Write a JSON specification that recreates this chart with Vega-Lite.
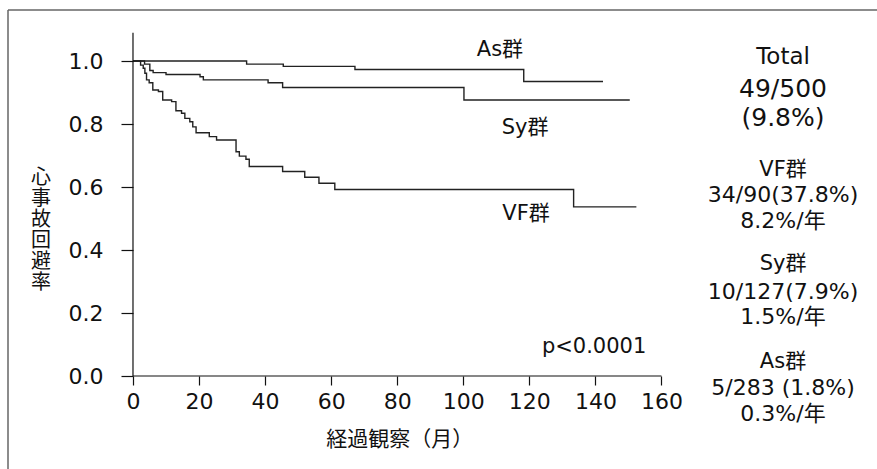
{
  "$schema": "https://vega.github.io/schema/vega-lite/v6.json",
  "width": 869,
  "height": 459,
  "autosize": {"type": "none"},
  "padding": {"left": 8, "top": 10, "right": 0, "bottom": 0},
  "background": "white",
  "config": {
    "view": {"stroke": null},
    "font": "DejaVu Sans, Noto Sans CJK JP",
    "axis": {"labelFont": "DejaVu Sans, Noto Sans CJK JP", "labelColor": "#111", "tickColor": "#111", "tickWidth": 1.2, "grid": false, "domain": false}
  },
  "datasets": {
    "curves": [
      {"g": "As", "x": 0, "y": 1.0},
      {"g": "As", "x": 34.4, "y": 0.99},
      {"g": "As", "x": 45.5, "y": 0.983},
      {"g": "As", "x": 67.2, "y": 0.973},
      {"g": "As", "x": 118.3, "y": 0.935},
      {"g": "As", "x": 142.3, "y": 0.935},
      {"g": "Sy", "x": 0, "y": 1.0},
      {"g": "Sy", "x": 3.5, "y": 0.99},
      {"g": "Sy", "x": 5.1, "y": 0.97},
      {"g": "Sy", "x": 6.1, "y": 0.963},
      {"g": "Sy", "x": 10.0, "y": 0.957},
      {"g": "Sy", "x": 20.3, "y": 0.95},
      {"g": "Sy", "x": 21.3, "y": 0.94},
      {"g": "Sy", "x": 40.9, "y": 0.931},
      {"g": "Sy", "x": 45.3, "y": 0.916},
      {"g": "Sy", "x": 100.2, "y": 0.876},
      {"g": "Sy", "x": 150.4, "y": 0.876},
      {"g": "VF", "x": 0, "y": 1.0},
      {"g": "VF", "x": 2.3, "y": 0.987},
      {"g": "VF", "x": 3.1, "y": 0.977},
      {"g": "VF", "x": 3.6, "y": 0.961},
      {"g": "VF", "x": 4.1, "y": 0.94},
      {"g": "VF", "x": 4.9, "y": 0.931},
      {"g": "VF", "x": 6.0, "y": 0.908},
      {"g": "VF", "x": 7.7, "y": 0.903},
      {"g": "VF", "x": 9.0, "y": 0.876},
      {"g": "VF", "x": 11.7, "y": 0.871},
      {"g": "VF", "x": 13.0, "y": 0.842},
      {"g": "VF", "x": 14.7, "y": 0.834},
      {"g": "VF", "x": 15.7, "y": 0.818},
      {"g": "VF", "x": 17.2, "y": 0.807},
      {"g": "VF", "x": 18.1, "y": 0.791},
      {"g": "VF", "x": 19.1, "y": 0.772},
      {"g": "VF", "x": 23.1, "y": 0.76},
      {"g": "VF", "x": 25.3, "y": 0.749},
      {"g": "VF", "x": 31.2, "y": 0.712},
      {"g": "VF", "x": 32.2, "y": 0.698},
      {"g": "VF", "x": 34.2, "y": 0.688},
      {"g": "VF", "x": 35.2, "y": 0.665},
      {"g": "VF", "x": 45.3, "y": 0.649},
      {"g": "VF", "x": 52.0, "y": 0.631},
      {"g": "VF", "x": 56.3, "y": 0.612},
      {"g": "VF", "x": 61.1, "y": 0.592},
      {"g": "VF", "x": 133.4, "y": 0.537},
      {"g": "VF", "x": 152.4, "y": 0.537}
    ],
    "axislines": [
      {"x": 0, "x2": 0, "y": 0, "y2": 1.09},
      {"x": 0, "x2": 160, "y": 0, "y2": 0}
    ],
    "frame": [
      {"x": -37.84, "x2": 225.25, "y": 1.1619, "y2": 1.1619},
      {"x": -37.84, "x2": -37.84, "y": -0.2952, "y2": 1.1619}
    ],
    "labels": [
      {"kind": "curve", "x": 111.1, "y": 1.035, "text": "As群"},
      {"kind": "curve", "x": 118.7, "y": 0.787, "text": "Sy群"},
      {"kind": "curve", "x": 119.0, "y": 0.514, "text": "VF群"},
      {"kind": "pval", "x": 139.6, "y": 0.092, "text": "p<0.0001"},
      {"kind": "totalhead", "x": 196.8, "y": 1.012, "text": "Total"},
      {"kind": "totalnum", "x": 196.8, "y": 0.911, "text": "49/500"},
      {"kind": "totalnum", "x": 196.8, "y": 0.818, "text": "(9.8%)"},
      {"kind": "stathead", "x": 196.8, "y": 0.654, "text": "VF群"},
      {"kind": "statnum", "x": 196.8, "y": 0.575, "text": "34/90(37.8%)"},
      {"kind": "statnum", "x": 196.8, "y": 0.493, "text": "8.2%/年"},
      {"kind": "stathead", "x": 196.8, "y": 0.356, "text": "Sy群"},
      {"kind": "statnum", "x": 196.8, "y": 0.268, "text": "10/127(7.9%)"},
      {"kind": "statnum", "x": 196.8, "y": 0.186, "text": "1.5%/年"},
      {"kind": "stathead", "x": 196.8, "y": 0.0435, "text": "As群"},
      {"kind": "statnum", "x": 196.8, "y": -0.039, "text": "5/283 (1.8%)"},
      {"kind": "statnum", "x": 196.8, "y": -0.121, "text": "0.3%/年"},
      {"kind": "ytitle", "x": -27.85, "y": 0.6286, "text": "心\n事\n故\n回\n避\n率"},
      {"kind": "xtitle", "x": 80.8, "y": -0.203, "text": "経過観察（月）"}
    ]
  },
  "layer": [
    {
      "data": {"name": "curves"},
      "mark": {"type": "line", "interpolate": "step-after", "color": "#222", "strokeWidth": 1.4},
      "encoding": {
        "x": {"field": "x", "type": "quantitative",
              "scale": {"domain": [-37.84, 225.25], "nice": false, "zero": false},
              "axis": {"title": null, "values": [0, 20, 40, 60, 80, 100, 120, 140, 160], "offset": -93, "tickSize": 9, "labelFontSize": 22, "labelPadding": 6, "labelFlush": false, "labelOverlap": false}},
        "y": {"field": "y", "type": "quantitative",
              "scale": {"domain": [-0.2952, 1.1619], "nice": false, "zero": false},
              "axis": {"title": null, "values": [0, 0.2, 0.4, 0.6, 0.8, 1.0], "format": ".1f", "offset": -125, "tickSize": 12, "labelFontSize": 22, "labelPadding": 18, "labelOverlap": false}},
        "detail": {"field": "g", "type": "nominal"}
      }
    },
    {
      "data": {"name": "axislines"},
      "mark": {"type": "rule", "color": "#111", "strokeWidth": 1.2},
      "encoding": {
        "x": {"field": "x", "type": "quantitative", "scale": {"domain": [-37.84, 225.25], "nice": false, "zero": false}},
        "x2": {"field": "x2"},
        "y": {"field": "y", "type": "quantitative", "scale": {"domain": [-0.2952, 1.1619], "nice": false, "zero": false}},
        "y2": {"field": "y2"}
      }
    },
    {
      "data": {"name": "frame"},
      "mark": {"type": "rule", "color": "#666", "strokeWidth": 1.5},
      "encoding": {
        "x": {"field": "x", "type": "quantitative", "scale": {"domain": [-37.84, 225.25], "nice": false, "zero": false}},
        "x2": {"field": "x2"},
        "y": {"field": "y", "type": "quantitative", "scale": {"domain": [-0.2952, 1.1619], "nice": false, "zero": false}},
        "y2": {"field": "y2"}
      }
    },
    {
      "data": {"name": "labels"},
      "transform": [{"filter": "datum.kind === 'curve'"}],
      "mark": {"type": "text", "fontSize": 21, "color": "#111", "align": "center", "baseline": "middle"},
      "encoding": {
        "x": {"field": "x", "type": "quantitative", "scale": {"domain": [-37.84, 225.25], "nice": false, "zero": false}},
        "y": {"field": "y", "type": "quantitative", "scale": {"domain": [-0.2952, 1.1619], "nice": false, "zero": false}},
        "text": {"field": "text"}
      }
    },
    {
      "data": {"name": "labels"},
      "transform": [{"filter": "datum.kind === 'pval'"}],
      "mark": {"type": "text", "fontSize": 21, "color": "#111", "align": "center", "baseline": "middle"},
      "encoding": {
        "x": {"field": "x", "type": "quantitative", "scale": {"domain": [-37.84, 225.25], "nice": false, "zero": false}},
        "y": {"field": "y", "type": "quantitative", "scale": {"domain": [-0.2952, 1.1619], "nice": false, "zero": false}},
        "text": {"field": "text"}
      }
    },
    {
      "data": {"name": "labels"},
      "transform": [{"filter": "datum.kind === 'totalhead'"}],
      "mark": {"type": "text", "fontSize": 23, "color": "#111", "align": "center", "baseline": "middle"},
      "encoding": {
        "x": {"field": "x", "type": "quantitative", "scale": {"domain": [-37.84, 225.25], "nice": false, "zero": false}},
        "y": {"field": "y", "type": "quantitative", "scale": {"domain": [-0.2952, 1.1619], "nice": false, "zero": false}},
        "text": {"field": "text"}
      }
    },
    {
      "data": {"name": "labels"},
      "transform": [{"filter": "datum.kind === 'totalnum'"}],
      "mark": {"type": "text", "fontSize": 25, "color": "#111", "align": "center", "baseline": "middle"},
      "encoding": {
        "x": {"field": "x", "type": "quantitative", "scale": {"domain": [-37.84, 225.25], "nice": false, "zero": false}},
        "y": {"field": "y", "type": "quantitative", "scale": {"domain": [-0.2952, 1.1619], "nice": false, "zero": false}},
        "text": {"field": "text"}
      }
    },
    {
      "data": {"name": "labels"},
      "transform": [{"filter": "datum.kind === 'stathead'"}],
      "mark": {"type": "text", "fontSize": 21, "color": "#111", "align": "center", "baseline": "middle"},
      "encoding": {
        "x": {"field": "x", "type": "quantitative", "scale": {"domain": [-37.84, 225.25], "nice": false, "zero": false}},
        "y": {"field": "y", "type": "quantitative", "scale": {"domain": [-0.2952, 1.1619], "nice": false, "zero": false}},
        "text": {"field": "text"}
      }
    },
    {
      "data": {"name": "labels"},
      "transform": [{"filter": "datum.kind === 'statnum'"}],
      "mark": {"type": "text", "fontSize": 22, "color": "#111", "align": "center", "baseline": "middle"},
      "encoding": {
        "x": {"field": "x", "type": "quantitative", "scale": {"domain": [-37.84, 225.25], "nice": false, "zero": false}},
        "y": {"field": "y", "type": "quantitative", "scale": {"domain": [-0.2952, 1.1619], "nice": false, "zero": false}},
        "text": {"field": "text"}
      }
    },
    {
      "data": {"name": "labels"},
      "transform": [{"filter": "datum.kind === 'ytitle'"}],
      "mark": {"type": "text", "fontSize": 20, "lineHeight": 21, "lineBreak": "\n", "color": "#111", "align": "center", "baseline": "middle"},
      "encoding": {
        "x": {"field": "x", "type": "quantitative", "scale": {"domain": [-37.84, 225.25], "nice": false, "zero": false}},
        "y": {"field": "y", "type": "quantitative", "scale": {"domain": [-0.2952, 1.1619], "nice": false, "zero": false}},
        "text": {"field": "text"}
      }
    },
    {
      "data": {"name": "labels"},
      "transform": [{"filter": "datum.kind === 'xtitle'"}],
      "mark": {"type": "text", "fontSize": 21, "color": "#111", "align": "center", "baseline": "middle"},
      "encoding": {
        "x": {"field": "x", "type": "quantitative", "scale": {"domain": [-37.84, 225.25], "nice": false, "zero": false}},
        "y": {"field": "y", "type": "quantitative", "scale": {"domain": [-0.2952, 1.1619], "nice": false, "zero": false}},
        "text": {"field": "text"}
      }
    }
  ]
}
